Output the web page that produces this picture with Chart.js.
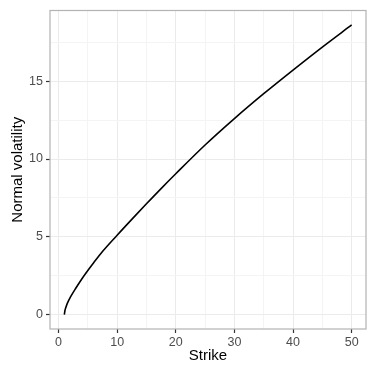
<!DOCTYPE html>
<html>
<head>
<meta charset="utf-8">
<script src="https://cdn.jsdelivr.net/npm/chart.js@4.4.0/dist/chart.umd.min.js"></script>
<style>
html, body { margin:0; padding:0; background:#fff; }
</style>
</head>
<body>
<canvas id="volChart" width="374" height="374"></canvas>
<script>
// values
var strikes   = [1, 1.1, 1.25, 1.5, 2, 3, 4, 5, 6, 7.5, 10, 12.5, 15, 17.5, 20, 25, 30, 35, 40, 45, 50];
var normalVol = [0, 0.26, 0.45, 0.72, 1.1, 1.72, 2.3, 2.83, 3.33, 4.05, 5.1, 6.12, 7.12, 8.1, 9.05, 10.9, 12.6, 14.2, 15.72, 17.2, 18.62];
var xTicks = [0, 5, 10, 15, 20, 25, 30, 35, 40, 45, 50];
var yTicks = [0, 2.5, 5, 7.5, 10, 12.5, 15, 17.5];

var points = [];
for (var i = 0; i < strikes.length; i++) {
	points.push({x: strikes[i], y: normalVol[i]});
}

var font = "'Liberation Sans', Arial, sans-serif";

// panel border like theme_bw
var panelBorder = {
	id : "panelBorder",
	afterDraw : function(chart){
		var a = chart.chartArea;
		var c = chart.ctx;
		c.save();
		c.strokeStyle = "#b3b3b3";
		c.lineWidth = 1.2;
		c.strokeRect(a.left, a.top, a.right - a.left, a.bottom - a.top);
		c.restore();
	}
};

var ctx = document.getElementById("volChart");

var chart = new Chart(ctx, {
	type : "scatter",
	data : {
		datasets : [{
			data : points,
			showLine : true,
			borderColor : "#000000",
			borderWidth : 1.6,
			pointRadius : 0,
			fill : false,
			cubicInterpolationMode : "monotone"
		}]
	},
	options : {
		responsive : false,
		animation : false,
		devicePixelRatio : 1,
		layout : { padding : { top : 7, right : 8, left : 0, bottom : 0 } },
		plugins : { legend : { display : false }, tooltip : { enabled : false } },
		scales : {
			x : {
				type : "linear",
				min : -1.45,
				max : 52.45,
				afterBuildTicks : function(scale){
					scale.ticks = xTicks.map(function(v){ return {value : v}; });
				},
				afterFit : function(scale){ scale.height = 45; },
				ticks : {
					autoSkip : false,
					maxRotation : 0,
					padding : 2,
					color : "#4d4d4d",
					font : { family : font, size : 12.5 },
					callback : function(v){ return v % 10 === 0 ? v : ""; }
				},
				grid : {
					color : function(c){ return c.tick && c.tick.value % 10 === 0 ? "#ebebeb" : "#f4f4f4"; },
					lineWidth : 1,
					tickLength : 4,
					tickColor : function(c){ return c.tick && c.tick.value % 10 === 0 ? "#333333" : "rgba(0,0,0,0)"; },
					tickWidth : 1.2
				},
				border : { display : false },
				title : {
					display : true,
					text : "Strike",
					color : "#000000",
					font : { family : font, size : 15 },
					padding : { top : 0, bottom : 9 }
				}
			},
			y : {
				type : "linear",
				min : -0.93,
				max : 19.55,
				afterBuildTicks : function(scale){
					scale.ticks = yTicks.map(function(v){ return {value : v}; });
				},
				afterFit : function(scale){ scale.width = 50; },
				ticks : {
					autoSkip : false,
					padding : 3,
					color : "#4d4d4d",
					font : { family : font, size : 12.5 },
					callback : function(v){ return v % 5 === 0 ? v : ""; }
				},
				grid : {
					color : function(c){ return c.tick && c.tick.value % 5 === 0 ? "#ebebeb" : "#f4f4f4"; },
					lineWidth : 1,
					tickLength : 4,
					tickColor : function(c){ return c.tick && c.tick.value % 5 === 0 ? "#333333" : "rgba(0,0,0,0)"; },
					tickWidth : 1.2
				},
				border : { display : false },
				title : {
					display : true,
					text : "Normal volatility",
					color : "#000000",
					font : { family : font, size : 15 },
					padding : { top : 9, bottom : 0 }
				}
			}
		}
	},
	plugins : [panelBorder]
});
</script>
</body>
</html>
